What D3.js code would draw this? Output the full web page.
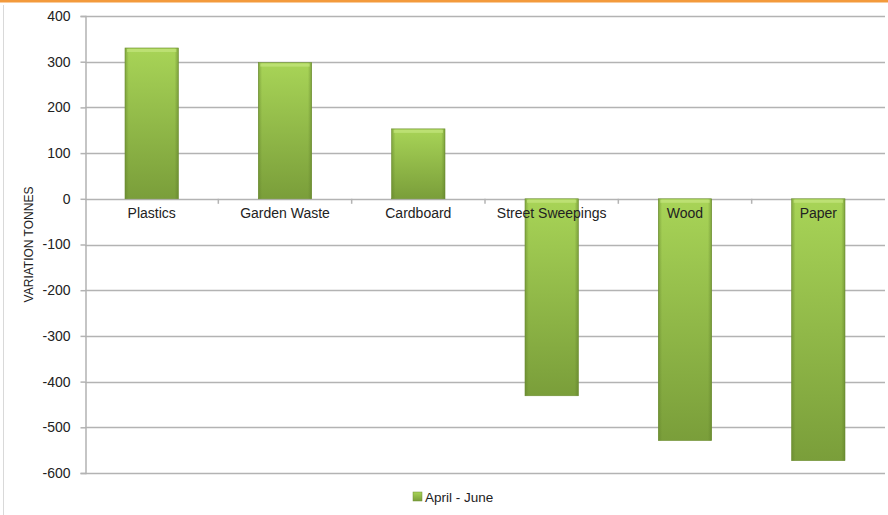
<!DOCTYPE html>
<html>
<head>
<meta charset="utf-8">
<script src="https://cdn.jsdelivr.net/npm/d3@7"></script>
<style>
  html, body { margin: 0; padding: 0; background: #fff; }
  svg { display: block; font-family: "Liberation Sans", Arial, sans-serif; }
</style>
</head>
<body>
<svg id="chart" width="888" height="515"></svg>
<script>
// Waste tonnage variation by material, April - June
const categories = ["Plastics", "Garden Waste", "Cardboard", "Street Sweepings", "Wood", "Paper"];
const values = [330, 298, 153, -431, -529, -573];
const seriesName = "April - June";
const yTicks = [400, 300, 200, 100, 0, -100, -200, -300, -400, -500, -600];

const svg = d3.select("#chart");
const W = 888, H = 515;
const margin = { left: 85, right: 3, top: 16, bottom: 42 };

// Frame: orange top rule and thin grey left border
svg.append("rect").attr("x", 0).attr("y", 0).attr("width", W).attr("height", 2.5).attr("fill", "#f39a3c");
svg.append("line").attr("x1", 3.5).attr("x2", 3.5).attr("y1", 5).attr("y2", H)
  .attr("stroke", "#d9d9d9").attr("stroke-width", 1);

const x = d3.scaleBand().domain(categories).range([margin.left, W - margin.right]).paddingInner(0.6).paddingOuter(0.3);
const y = d3.scaleLinear().domain([-600, 400]).range([H - margin.bottom, margin.top]);

// Bar gradient: light green at top, darker at bottom
const defs = svg.append("defs");
const grad = defs.append("linearGradient").attr("id", "barGrad").attr("x1", 0).attr("y1", 0).attr("x2", 0).attr("y2", 1);
grad.append("stop").attr("offset", "0%").attr("stop-color", "#a8d457");
grad.append("stop").attr("offset", "100%").attr("stop-color", "#7a9e3a");
const edge = defs.append("linearGradient").attr("id", "edgeGrad").attr("x1", 0).attr("y1", 0).attr("x2", 1).attr("y2", 0);
edge.append("stop").attr("offset", "0%").attr("stop-color", "#5f7f2a").attr("stop-opacity", 0.5);
edge.append("stop").attr("offset", "7%").attr("stop-color", "#5f7f2a").attr("stop-opacity", 0);
edge.append("stop").attr("offset", "93%").attr("stop-color", "#5f7f2a").attr("stop-opacity", 0);
edge.append("stop").attr("offset", "100%").attr("stop-color", "#5f7f2a").attr("stop-opacity", 0.55);

// Horizontal gridlines
svg.append("g").selectAll("line").data(yTicks).join("line")
  .attr("x1", margin.left).attr("x2", W - margin.right)
  .attr("y1", d => Math.round(y(d)) + 0.5).attr("y2", d => Math.round(y(d)) + 0.5)
  .attr("stroke", "#b3b3b3").attr("stroke-width", 1.5);

// Y axis (plain hyphen for negative numbers)
const fmt = d => String(d);
const yAxis = svg.append("g").attr("transform", `translate(${margin.left + 0.5},0)`)
  .call(d3.axisLeft(y).tickValues(yTicks).tickSize(5).tickPadding(10).tickFormat(fmt));
yAxis.select(".domain").attr("stroke", "#b3b3b3").attr("stroke-width", 1.5);
yAxis.selectAll(".tick line").attr("stroke", "#b3b3b3").attr("stroke-width", 1.5);
yAxis.selectAll(".tick text").attr("font-size", 14).attr("fill", "#222")
  .attr("font-family", "Liberation Sans, Arial, sans-serif");

// Category boundary ticks on the zero line
const bounds = categories.slice(1).map(c => x(c) - x.step() * x.paddingInner() / 2);
svg.append("g").selectAll("line").data(bounds).join("line")
  .attr("x1", d => d).attr("x2", d => d)
  .attr("y1", y(0)).attr("y2", y(0) + 5)
  .attr("stroke", "#b3b3b3").attr("stroke-width", 1.5);

// Bars
const bars = svg.append("g");
bars.selectAll("rect.bar").data(values).join("rect").attr("class", "bar")
  .attr("x", (d, i) => x(categories[i]))
  .attr("y", d => y(Math.max(0, d)))
  .attr("width", x.bandwidth())
  .attr("height", d => Math.abs(y(d) - y(0)))
  .attr("fill", "url(#barGrad)")
  .attr("stroke", "#6f8f34").attr("stroke-width", 0.6);
bars.selectAll("rect.edge").data(values).join("rect").attr("class", "edge")
  .attr("x", (d, i) => x(categories[i]))
  .attr("y", d => y(Math.max(0, d)))
  .attr("width", x.bandwidth())
  .attr("height", d => Math.abs(y(d) - y(0)))
  .attr("fill", "url(#edgeGrad)");
// Top highlight bevel
bars.selectAll("rect.hl").data(values).join("rect").attr("class", "hl")
  .attr("x", (d, i) => x(categories[i]) + 2)
  .attr("y", d => y(Math.max(0, d)) + 1)
  .attr("width", x.bandwidth() - 4)
  .attr("height", 3)
  .attr("fill", "#c4e67f").attr("opacity", 0.7);

// Category labels just below the zero line
svg.append("g").selectAll("text").data(categories).join("text")
  .attr("x", d => x(d) + x.bandwidth() / 2)
  .attr("y", y(0) + 19)
  .attr("text-anchor", "middle")
  .attr("font-size", 14).attr("fill", "#222")
  .text(d => d);

// Y axis title
svg.append("text")
  .attr("transform", `translate(33,${(y(400) + y(-600)) / 2}) rotate(-90)`)
  .attr("text-anchor", "middle")
  .attr("font-size", 12).attr("fill", "#222")
  .text("VARIATION TONNES");

// Legend
const lg = svg.append("g").attr("transform", "translate(413,492)");
lg.append("rect").attr("x", 0).attr("y", 0).attr("width", 9).attr("height", 9)
  .attr("fill", "url(#barGrad)").attr("stroke", "#6f8f34").attr("stroke-width", 0.5);
lg.append("text").attr("x", 12).attr("y", 9.5).attr("font-size", 13.5).attr("fill", "#222").text(seriesName);
</script>
</body>
</html>
